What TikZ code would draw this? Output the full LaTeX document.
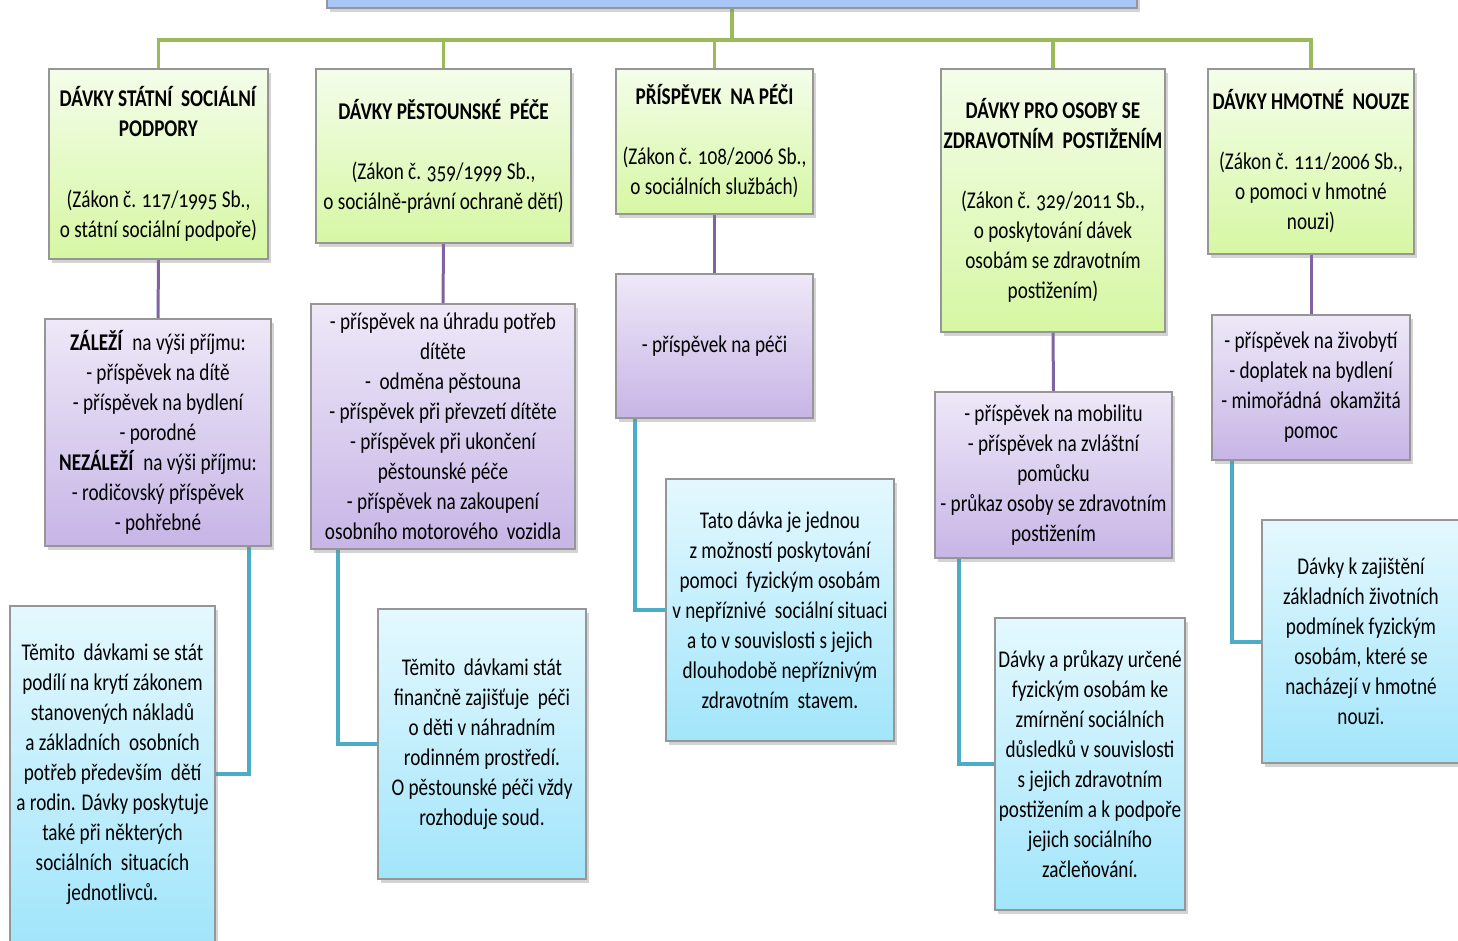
\documentclass[tikz,border=0pt]{standalone}
\usepackage{fontspec}
\setmainfont{Carlito}[FakeStretch=0.8,Numbers=OldStyle]
\usetikzlibrary{shadows}
\pgfdeclarelayer{background}
\pgfsetlayers{background,main}
\definecolor{gtop}{RGB}{244,253,234}
\definecolor{gbot}{RGB}{214,247,163}
\definecolor{ptop}{RGB}{238,232,248}
\definecolor{pbot}{RGB}{199,181,230}
\definecolor{btop}{RGB}{228,248,254}
\definecolor{bbot}{RGB}{162,229,251}
\definecolor{topfill}{RGB}{168,199,248}
\definecolor{bordercol}{RGB}{150,150,150}
\definecolor{gcol}{RGB}{155,187,89}
\definecolor{pcol}{RGB}{128,100,162}
\definecolor{bcol}{RGB}{75,172,198}
\begin{document}
\begin{tikzpicture}[x=0.5pt,y=-0.5pt,
  font=\fontsize{12}{15}\selectfont,
  box/.style={draw=bordercol, line width=0.6pt, inner sep=0pt, align=center, text=black,
    drop shadow={shadow xshift=1.5pt,shadow yshift=-1.8pt,opacity=0.35}},
  gbox/.style={box, top color=gtop, bottom color=gbot},
  pbox/.style={box, top color=ptop, bottom color=pbot},
  bbox/.style={box, top color=btop, bottom color=bbot},
  gline/.style={draw=gcol, line width=1.6pt},
  pline/.style={draw=pcol, line width=1.5pt},
  bline/.style={draw=bcol, line width=2pt}]
\useasboundingbox (0,0) rectangle (1458,941);
\clip (0,0) rectangle (1458,941);

% top box
\node[box, fill=topfill, minimum width=405pt, minimum height=24pt] (top) at (732,-16) {};

% green boxes
\node[gbox, minimum width=109.5pt, minimum height=95pt] (g1) at (158.5,164)
  {\textbf{DÁVKY STÁTNÍ\ \ SOCIÁLNÍ}\\\textbf{PODPORY}\\[20.5pt](Zákon č. 117/1995 Sb.,\\o státní sociální podpoře)};
\node[gbox, minimum width=127.5pt, minimum height=87pt] (g2) at (443.5,156)
  {\textbf{DÁVKY PĚSTOUNSKÉ\ \ PÉČE}\\[15pt](Zákon č. 359/1999 Sb.,\\o sociálně-právní ochraně dětí)};
\node[gbox, minimum width=98.5pt, minimum height=72.5pt] (g3) at (714.5,141.5)
  {\textbf{PŘÍSPĚVEK\ \ NA PÉČI}\\[15pt](Zákon č. 108/2006 Sb.,\\o sociálních službách)};
\node[gbox, minimum width=112pt, minimum height=131.5pt] (g4) at (1053,200.5)
  {\textbf{DÁVKY PRO OSOBY SE}\\\textbf{ZDRAVOTNÍM\ \ POSTIŽENÍM}\\[15pt](Zákon č. 329/2011 Sb.,\\o poskytování dávek\\osobám se zdravotním\\postižením)};
\node[gbox, minimum width=103pt, minimum height=92.5pt] (g5) at (1311,161.5)
  {\textbf{DÁVKY HMOTNÉ\ \ NOUZE}\\[15pt](Zákon č. 111/2006 Sb.,\\o pomoci v hmotné\\nouzi)};

% purple boxes
\node[pbox, minimum width=113pt, minimum height=113.5pt] (p1) at (158,432.5)
  {\textbf{ZÁLEŽÍ}\ \ na výši příjmu:\\- příspěvek na dítě\\- příspěvek na bydlení\\- porodné\\\textbf{NEZÁLEŽÍ}\ \ na výši příjmu:\\- rodičovský příspěvek\\- pohřebné};
\node[pbox, minimum width=132pt, minimum height=122.5pt] (p2) at (443,426.5)
  {- příspěvek na úhradu potřeb\\dítěte\\-\ \ odměna pěstouna\\- příspěvek při převzetí dítěte\\- příspěvek při ukončení\\pěstounské péče\\- příspěvek na zakoupení\\osobního motorového\ \ vozidla};
\node[pbox, minimum width=98.5pt, minimum height=72pt] (p3) at (714.5,346)
  {- příspěvek na péči};
\node[pbox, minimum width=118.5pt, minimum height=83pt] (p4) at (1053.5,475)
  {- příspěvek na mobilitu\\- příspěvek na zvláštní\\pomůcku\\- průkaz osoby se zdravotním\\postižením};
\node[pbox, minimum width=99pt, minimum height=72.5pt] (p5) at (1311,387.5)
  {- příspěvek na živobytí\\- doplatek na bydlení\\- mimořádná\ \ okamžitá\\pomoc};

% blue boxes
\node[bbox, minimum width=102.5pt, minimum height=168pt] (b1) at (112.5,774)
  {Těmito\ \ dávkami se stát\\podílí na krytí zákonem\\stanovených nákladů\\a základních\ \ osobních\\potřeb především\ \ dětí\\a rodin. Dávky poskytuje\\také při některých\\sociálních\ \ situacích\\jednotlivců.};
\node[bbox, minimum width=104pt, minimum height=135pt] (b2) at (482,744)
  {Těmito\ \ dávkami stát\\finančně zajišťuje\ \ péči\\o děti v náhradním\\rodinném prostředí.\\O pěstounské péči vždy\\rozhoduje soud.};
\node[bbox, minimum width=114pt, minimum height=131pt] (b3) at (780,610)
  {Tato dávka je jednou\\z možností poskytování\\pomoci\ \ fyzickým osobám\\v nepříznivé\ \ sociální situaci\\a to v souvislosti s jejich\\dlouhodobě nepříznivým\\zdravotním\ \ stavem.};
\node[bbox, minimum width=95pt, minimum height=146pt] (b4) at (1090,764)
  {Dávky a průkazy určené\\fyzickým osobám ke\\zmírnění sociálních\\důsledků v souvislosti\\s jejich zdravotním\\postižením a k podpoře\\jejich sociálního\\začleňování.};
\node[bbox, minimum width=99pt, minimum height=121.5pt] (b5) at (1361,641.5)
  {Dávky k zajištění\\základních životních\\podmínek fyzickým\\osobám, které se\\nacházejí v hmotné\\nouzi.};

\begin{pgfonlayer}{background}
\coordinate (bus) at (732,40);
\draw[gline] (top.south) -- (bus);
\draw[gline] (bus) -| (g1.north);
\draw[gline] (bus) -| (g2.north);
\draw[gline] (bus) -| (g3.north);
\draw[gline] (bus) -| (g4.north);
\draw[gline] (bus) -| (g5.north);
\draw[pline] (g1.south) -- (p1.north);
\draw[pline] (g2.south) -- (p2.north);
\draw[pline] (g3.south) -- (p3.north);
\draw[pline] (g4.south) -- (p4.north);
\draw[pline] (g5.south) -- (p5.north);
\draw[bline] ([xshift=-11.5pt]p1.south east) |- (b1.east);
\draw[bline] ([xshift=14pt]p2.south west) |- (b2.west);
\draw[bline] ([xshift=10pt]p3.south west) |- (b3.west);
\draw[bline] ([xshift=12.5pt]p4.south west) |- (b4.west);
\draw[bline] ([xshift=10.5pt]p5.south west) |- (b5.west);
\end{pgfonlayer}
\end{tikzpicture}
\end{document}
